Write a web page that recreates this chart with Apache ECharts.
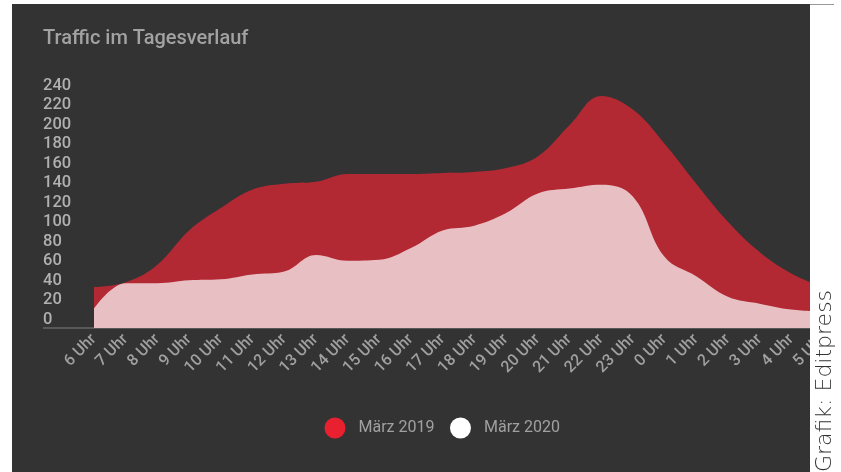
<!DOCTYPE html>
<html>
<head>
<meta charset="utf-8">
<script src="https://cdn.jsdelivr.net/npm/echarts@6/dist/echarts.min.js"></script>
<style>html,body{margin:0;padding:0;background:#fff}#c{width:841px;height:472px}</style>
</head>
<body>
<div id="c"></div>
<script>
const hours = ['6 Uhr','7 Uhr','8 Uhr','9 Uhr','10 Uhr','11 Uhr','12 Uhr','13 Uhr','14 Uhr','15 Uhr','16 Uhr','17 Uhr','18 Uhr','19 Uhr','20 Uhr','21 Uhr','22 Uhr','23 Uhr','0 Uhr','1 Uhr','2 Uhr','3 Uhr','4 Uhr','5 Uhr'];
const maerz2019 = [42, 47, 65, 100, 123, 142, 148, 150, 158, 158, 158, 159, 160, 164, 176, 208, 238, 224, 189, 148, 109, 78, 56, 42];
const maerz2020 = [20, 46, 46, 49, 50, 55, 58, 75, 69, 70, 82, 100, 105, 118, 138, 143, 147, 135, 73, 53, 32, 25, 19, 17];
const yTicks = {min: 0, max: 240, step: 20};
const titleText = 'Traffic im Tagesverlauf';
const creditText = 'Grafik: Editpress';

const chart = echarts.init(document.getElementById('c'), null, {renderer: 'canvas'});
const font = 'Roboto, "Noto Sans", sans-serif';
chart.setOption({
  backgroundColor: '#ffffff',
  animation: false,
  title: {
    text: titleText, left: 43, top: 29, padding: 0,
    textStyle: {color: '#a2a2a2', fontSize: 20, fontWeight: 500, fontFamily: font}
  },
  legend: {
    left: 324.5, top: 417.5, padding: 0, itemWidth: 21, itemHeight: 21, itemGap: 15.5, icon: 'circle',
    textStyle: {color: '#a0a0a0', fontSize: 16, fontFamily: font, padding: [0, 0, 0, 8]},
    data: [
      {name: 'März 2019', itemStyle: {color: '#e8202f'}},
      {name: 'März 2020', itemStyle: {color: '#ffffff'}}
    ]
  },
  grid: {left: 94, right: 18, top: 94, bottom: 144},
  xAxis: {
    type: 'category', data: hours, boundaryGap: false,
    axisLine: {lineStyle: {color: '#6b6464', width: 1.5}},
    axisTick: {show: false},
    axisLabel: {rotate: 45, margin: 9, interval: 0, color: '#a0a0a0', fontSize: 16, fontWeight: 500, fontFamily: font}
  },
  yAxis: {
    type: 'value', min: yTicks.min, max: yTicks.max, interval: yTicks.step,
    axisLine: {show: false}, axisTick: {show: false}, splitLine: {show: false},
    axisLabel: {align: 'left', margin: 51, verticalAlign: 'bottom', padding: [0,0,0,0], color: '#b0b0b0', fontSize: 16.5, fontWeight: 500, fontFamily: font}
  },
  series: [
    {name: 'März 2019', type: 'line', data: maerz2019, smooth: 0.4, symbol: 'none',
     lineStyle: {width: 0}, areaStyle: {color: '#b22833', opacity: 1}, itemStyle: {color: '#b22833'}, z: 2},
    {name: 'März 2020', type: 'line', data: maerz2020, smooth: 0.4, symbol: 'none',
     lineStyle: {width: 0}, areaStyle: {color: '#e8c0c4', opacity: 1}, itemStyle: {color: '#e8c0c4'}, z: 3}
  ],
  graphic: [
    {type: 'rect', z: -10, silent: true, shape: {x: 12, y: 4, width: 798, height: 468}, style: {fill: '#333333'}},
    {type: 'line', z: 5, silent: true, shape: {x1: 43, y1: 328, x2: 94, y2: 328}, style: {stroke: '#6b6464', lineWidth: 1.5}},
    {type: 'rect', z: 100, silent: true, shape: {x: 810, y: 0, width: 31, height: 472}, style: {fill: '#ffffff'}},
    {type: 'line', z: 101, silent: true, shape: {x1: 810, y1: 4.5, x2: 834, y2: 4.5}, style: {stroke: '#9a9a9a', lineWidth: 1}},
    {type: 'text', z: 101, silent: true, x: 825, y: 381, rotation: Math.PI / 2,
     style: {text: creditText, fill: '#333333', font: '300 22px "DejaVu Sans", sans-serif', align: 'center', verticalAlign: 'middle'}}
  ]
});
</script>
</body>
</html>
